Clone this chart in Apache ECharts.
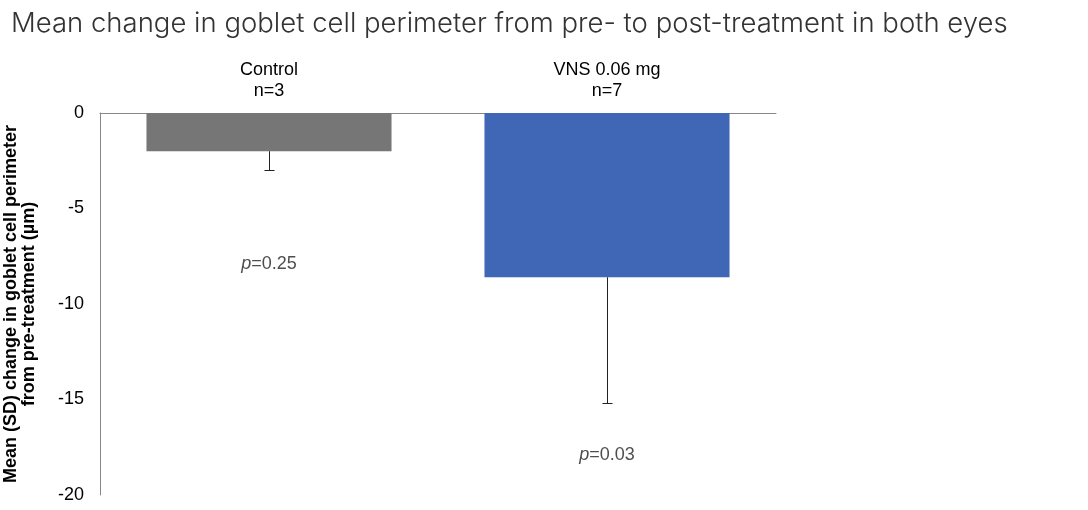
<!DOCTYPE html>
<html>
<head>
<meta charset="utf-8">
<script src="https://cdn.jsdelivr.net/npm/echarts@6/dist/echarts.min.js"></script>
<style>html,body{margin:0;padding:0;background:#fff}#c{width:1088px;height:510px}</style>
</head>
<body>
<div id="c"></div>
<script>
const categories = ['Control\nn=3', 'VNS 0.06 mg\nn=7'];
const means = [-2.0, -8.6];
const sds = [0.97, 6.6];
const barColors = ['#767676', '#3F67B5'];
const pLabels = ['0.25', '0.03'];
const pLabelY = [-7.9, -17.9];
const yTicks = { min: -20, max: 0, interval: 5 };

const chart = echarts.init(document.getElementById('c'));
const font = '"Liberation Sans", Arial, sans-serif';
chart.setOption({
  animation: false,
  title: {
    text: 'Mean change in goblet cell perimeter from pre- to post-treatment in both eyes',
    left: 6, top: 5,
    textStyle: { fontFamily: 'Inter', fontWeight: 300, fontSize: 27.5, color: '#333' }
  },
  grid: { left: 100, right: 312, top: 113, bottom: 15, containLabel: false, outerBoundsMode: 'none' },
  xAxis: {
    type: 'category', data: categories, position: 'top',
    axisLine: { lineStyle: { color: '#888', width: 1 } },
    axisTick: { show: false },
    axisLabel: { fontFamily: font, fontSize: 18, color: '#000', lineHeight: 21, margin: 11 }
  },
  yAxis: {
    type: 'value', min: yTicks.min, max: yTicks.max, interval: yTicks.interval,
    splitLine: { show: false },
    axisLine: { show: true, lineStyle: { color: '#888', width: 1 } },
    axisTick: { show: false },
    axisLabel: { fontFamily: font, fontSize: 18, color: '#000', margin: 16 },
    name: 'Mean (SD) change in goblet cell perimeter\nfrom pre-treatment (µm)',
    nameLocation: 'middle', nameGap: 62,
    nameTextStyle: { fontFamily: font, fontSize: 18, fontWeight: 'bold', color: '#000', lineHeight: 18 }
  },
  series: [
    {
      type: 'bar', barCategoryGap: '27.5%',
      data: means.map((v, i) => ({ value: v, itemStyle: { color: barColors[i] } }))
    },
    {
      type: 'custom',
      data: means.map((v, i) => [i, v, v - sds[i]]),
      renderItem: function (params, api) {
        const top = api.coord([api.value(0), api.value(1)]);
        const bot = api.coord([api.value(0), api.value(2)]);
        const style = { stroke: '#222', lineWidth: 1 };
        const x = Math.round(top[0]) + 0.5;
        const yb = Math.round(bot[1]) + 0.5;
        return {
          type: 'group',
          children: [
            { type: 'line', shape: { x1: x, y1: top[1], x2: x, y2: yb }, style },
            { type: 'line', shape: { x1: x - 5, y1: yb, x2: x + 5, y2: yb }, style }
          ]
        };
      },
      z: 5
    },
    {
      type: 'scatter', symbolSize: 0,
      data: pLabels.map((p, i) => ({ value: [i, pLabelY[i]], p: p })),
      label: {
        show: true, position: 'inside',
        formatter: function (d) { return '{i|p}{n|=' + d.data.p + '}'; },
        rich: {
          i: { fontFamily: font, fontSize: 18, fontStyle: 'italic', color: '#222' },
          n: { fontFamily: font, fontSize: 18, color: '#222' }
        }
      }
    }
  ]
});
</script>
</body>
</html>
